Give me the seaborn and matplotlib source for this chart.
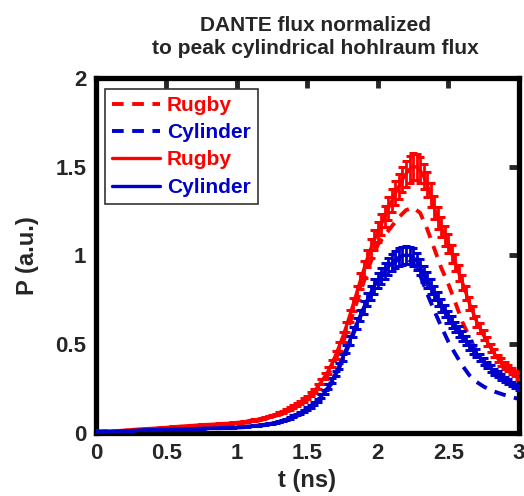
import numpy as np
import pandas as pd
import matplotlib
matplotlib.use("Agg")
import matplotlib.pyplot as plt
import seaborn as sns
from matplotlib.lines import Line2D

# ---------------- data ----------------
# solid curves (with error bars), sampled every 0.025 ns from 0 to 3 ns
t_solid = np.linspace(0.0, 3.0, 121)
rugby_solid = [
    0.010, 0.010, 0.010, 0.010, 0.010, 0.012, 0.012, 0.014, 0.015, 0.017,
    0.018, 0.020, 0.021, 0.022, 0.024, 0.025, 0.026, 0.027, 0.029, 0.030,
    0.031, 0.033, 0.035, 0.036, 0.038, 0.039, 0.040, 0.042, 0.043, 0.045,
    0.046, 0.047, 0.048, 0.049, 0.050, 0.051, 0.053, 0.054, 0.055, 0.057,
    0.059, 0.061, 0.063, 0.066, 0.069, 0.073, 0.077, 0.082, 0.087, 0.092,
    0.098, 0.104, 0.111, 0.119, 0.128, 0.138, 0.149, 0.160, 0.172, 0.186,
    0.200, 0.218, 0.238, 0.262, 0.290, 0.320, 0.352, 0.392, 0.438, 0.487,
    0.540, 0.598, 0.660, 0.724, 0.790, 0.856, 0.920, 0.982, 1.038, 1.087,
    1.130, 1.176, 1.220, 1.265, 1.308, 1.350, 1.390, 1.427, 1.460, 1.485,
    1.500, 1.498, 1.482, 1.445, 1.400, 1.340, 1.270, 1.210, 1.160, 1.110,
    1.070, 1.010, 0.960, 0.900, 0.850, 0.790, 0.730, 0.680, 0.630, 0.590,
    0.550, 0.515, 0.480, 0.450, 0.420, 0.400, 0.380, 0.365, 0.350, 0.335,
    0.320,
]
cylinder_solid = [
    0.008, 0.008, 0.008, 0.009, 0.009, 0.010, 0.010, 0.011, 0.012, 0.013,
    0.014, 0.015, 0.016, 0.017, 0.018, 0.018, 0.019, 0.020, 0.020, 0.021,
    0.021, 0.022, 0.022, 0.023, 0.023, 0.024, 0.024, 0.025, 0.025, 0.026,
    0.026, 0.027, 0.027, 0.028, 0.028, 0.029, 0.030, 0.030, 0.031, 0.032,
    0.033, 0.034, 0.035, 0.037, 0.039, 0.041, 0.043, 0.046, 0.049, 0.052,
    0.055, 0.059, 0.064, 0.070, 0.077, 0.085, 0.094, 0.104, 0.114, 0.125,
    0.137, 0.150, 0.166, 0.185, 0.207, 0.232, 0.262, 0.296, 0.335, 0.378,
    0.424, 0.472, 0.520, 0.568, 0.615, 0.662, 0.707, 0.750, 0.790, 0.826,
    0.858, 0.886, 0.912, 0.936, 0.958, 0.976, 0.990, 0.998, 1.002, 1.000,
    0.990, 0.968, 0.935, 0.898, 0.862, 0.826, 0.790, 0.755, 0.720, 0.686,
    0.654, 0.625, 0.598, 0.572, 0.546, 0.520, 0.494, 0.470, 0.448, 0.426,
    0.404, 0.383, 0.363, 0.345, 0.330, 0.315, 0.301, 0.288, 0.276, 0.264,
    0.254,
]
rel_err = 0.05  # relative size of the error bars on the solid curves

# dashed curves, sampled every 0.05 ns from 0 to 3 ns
t_dash = np.linspace(0.0, 3.0, 61)
rugby_dash = [
    0.008, 0.008, 0.009, 0.010, 0.012, 0.015, 0.018, 0.020, 0.022, 0.025,
    0.027, 0.030, 0.033, 0.036, 0.039, 0.041, 0.043, 0.045, 0.047, 0.050,
    0.053, 0.057, 0.062, 0.070, 0.079, 0.090, 0.102, 0.118, 0.137, 0.160,
    0.188, 0.225, 0.272, 0.332, 0.412, 0.505, 0.615, 0.735, 0.850, 0.965,
    1.060, 1.115, 1.165, 1.215, 1.255, 1.270, 1.240, 1.150, 1.040, 0.930,
    0.840, 0.735, 0.625, 0.540, 0.460, 0.395, 0.350, 0.315, 0.290, 0.270,
    0.255,
]
cylinder_dash = [
    0.008, 0.008, 0.009, 0.010, 0.011, 0.013, 0.015, 0.017, 0.018, 0.019,
    0.020, 0.021, 0.022, 0.023, 0.024, 0.025, 0.026, 0.027, 0.028, 0.029,
    0.031, 0.033, 0.036, 0.040, 0.045, 0.051, 0.059, 0.070, 0.085, 0.105,
    0.128, 0.158, 0.198, 0.252, 0.322, 0.410, 0.505, 0.605, 0.700, 0.785,
    0.850, 0.905, 0.950, 0.980, 0.985, 0.960, 0.890, 0.785, 0.690, 0.600,
    0.515, 0.445, 0.380, 0.325, 0.288, 0.262, 0.242, 0.227, 0.214, 0.202,
    0.192,
]

title = "DANTE flux normalized\nto peak cylindrical hohlraum flux"
xlabel = "t (ns)"
ylabel = "P (a.u.)"
legend_labels = ["Rugby", "Cylinder", "Rugby", "Cylinder"]
xticks = [0, 0.5, 1, 1.5, 2, 2.5, 3]
xticklabels = ["0", "0.5", "1", "1.5", "2", "2.5", "3"]
yticks = [0, 0.5, 1, 1.5, 2]
yticklabels = ["0", "0.5", "1", "1.5", "2"]

# ---------------- style ----------------
RED = "#ff0000"
BLUE = "#0000cc"
DASH = (0, (3.0, 2.2))
sns.set_style("white")
plt.rcParams["font.family"] = ["Liberation Sans", "DejaVu Sans"]
plt.rcParams["font.weight"] = "bold"

fig = plt.figure(figsize=(5.24, 4.96), dpi=100)
ax = fig.add_axes([0.183, 0.127, 0.807, 0.716])

df_dash = pd.DataFrame({"t": t_dash, "rugby": rugby_dash, "cyl": cylinder_dash})
df_solid = pd.DataFrame({"t": t_solid, "rugby": rugby_solid, "cyl": cylinder_solid})

sns.lineplot(data=df_dash, x="t", y="rugby", ax=ax, color=RED, lw=2.8,
             linestyle=DASH, zorder=2)
sns.lineplot(data=df_dash, x="t", y="cyl", ax=ax, color=BLUE, lw=2.8,
             linestyle=DASH, zorder=2)

for col, c in (("rugby", RED), ("cyl", BLUE)):
    y = df_solid[col].to_numpy()
    ax.errorbar(df_solid["t"], y, yerr=rel_err * y, fmt="none", ecolor=c,
                elinewidth=2.0, capsize=2.8, capthick=2.2, zorder=3)
    sns.lineplot(data=df_solid, x="t", y=col, ax=ax, color=c, lw=2.4, zorder=4)

ax.set_xlim(0, 3)
ax.set_ylim(0, 2)
ax.set_xticks(xticks)
ax.set_xticklabels(xticklabels)
ax.set_yticks(yticks)
ax.set_yticklabels(yticklabels)
ax.tick_params(direction="in", length=7.5, width=3.5, top=True, right=True,
               labelsize=16, pad=7)
for lab in ax.get_xticklabels() + ax.get_yticklabels():
    lab.set_fontweight("bold")
for s in ax.spines.values():
    s.set_linewidth(3.8)
    s.set_color("black")

ax.set_xlabel(xlabel, fontsize=17, fontweight="bold", labelpad=4)
ax.set_ylabel(ylabel, fontsize=17, fontweight="bold", labelpad=12)
ax.set_title(title, fontsize=15, fontweight="bold", pad=17, linespacing=1.3,
             x=0.52)

handles = [
    Line2D([], [], color=RED, lw=2.8, linestyle=DASH),
    Line2D([], [], color=BLUE, lw=2.8, linestyle=DASH),
    Line2D([], [], color=RED, lw=2.4),
    Line2D([], [], color=BLUE, lw=2.4),
]
leg = ax.legend(handles, legend_labels, loc="upper left",
                bbox_to_anchor=(0.022, 0.97), fontsize=15, frameon=True,
                fancybox=False, edgecolor="black", handlelength=2.3,
                handletextpad=0.3, labelspacing=0.4, borderpad=0.35,
                borderaxespad=0.0)
leg.get_frame().set_linewidth(1.2)
for txt, c in zip(leg.get_texts(), [RED, BLUE, RED, BLUE]):
    txt.set_color(c)
    txt.set_fontweight("bold")

fig.savefig("out.png", dpi=100)
